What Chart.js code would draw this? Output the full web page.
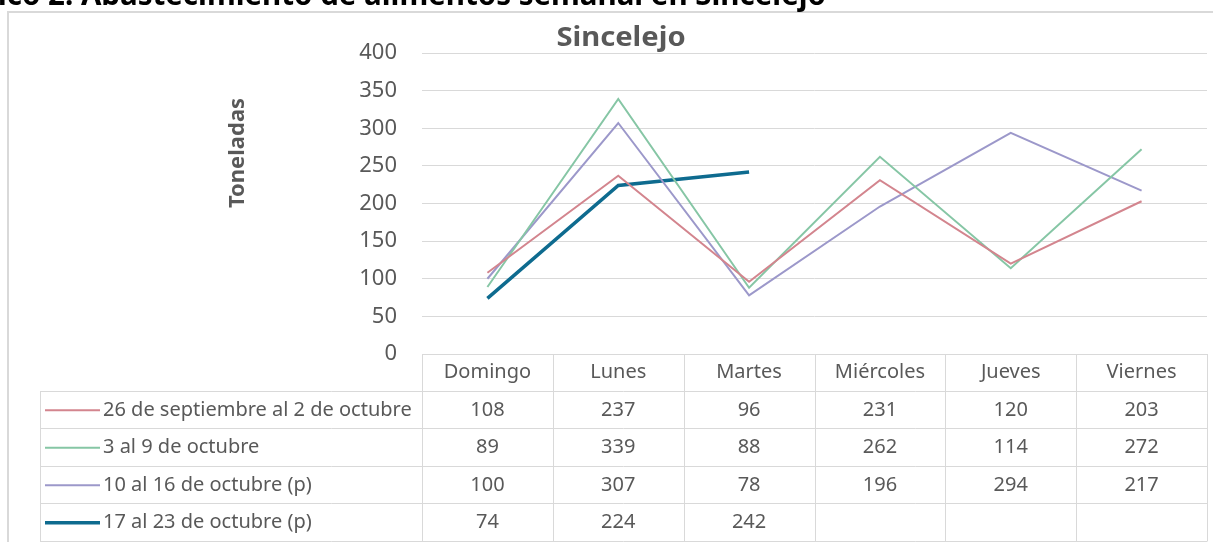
<!DOCTYPE html>
<html><head><meta charset="utf-8">
<script src="https://cdn.jsdelivr.net/npm/chart.js@4/dist/chart.umd.min.js"></script>
<style>
html,body{margin:0;padding:0;background:#fff;overflow:hidden}
#wrap{position:relative;width:1213px;height:542px;overflow:hidden}
#hdr{position:absolute;right:387px;top:-27px;font:bold 29.5px "Noto Sans";white-space:nowrap;color:#000;z-index:2}
canvas{position:absolute;left:0;top:0}
</style></head><body>
<div id="wrap"><div id="hdr">Gráfico 2. Abastecimiento de alimentos semanal en Sincelejo</div><canvas id="c" width="1213" height="542"></canvas></div>
<script>
const categories = ['Domingo','Lunes','Martes','Miércoles','Jueves','Viernes'];
const seriesNames = ['26 de septiembre al 2 de octubre','3 al 9 de octubre','10 al 16 de octubre (p)','17 al 23 de octubre (p)'];
const sep26 = [108,237,96,231,120,203];
const oct3 = [89,339,88,262,114,272];
const oct10 = [100,307,78,196,294,217];
const oct17 = [74,224,242,null,null,null];
const yTickMin = 0, yTickMax = 400, yTickStep = 50;
const chartTitle = 'Sincelejo';
const yTitle = 'Toneladas';

const colors = ['#d3858e','#86c6a5','#9c98ca','#0e6b8f'];
const widths = [2,2,2,3.5];
const values = [sep26, oct3, oct10, oct17];
const FONT = '"Noto Sans", sans-serif';
const GRAY = '#595959';
const LINE = '#d9d9d9';

const tablePlugin = {
  id: 'tablePlugin',
  afterDraw(chart) {
    const ctx = chart.ctx;
    const ca = chart.chartArea;
    const xs = chart.scales.x;
    ctx.save();
    // outer border
    ctx.strokeStyle = LINE; ctx.lineWidth = 2;
    ctx.beginPath(); ctx.moveTo(8, 560); ctx.lineTo(8, 12); ctx.lineTo(1220, 12); ctx.stroke();
    // title
    ctx.fillStyle = GRAY; ctx.font = 'bold 27px ' + FONT;
    ctx.textAlign = 'center'; ctx.textBaseline = 'alphabetic';
    ctx.save(); ctx.translate(621, 46); ctx.scale(1.08, 1); ctx.fillText(chartTitle, 0, 0); ctx.restore();
    // y title
    ctx.save(); ctx.translate(238, 153); ctx.rotate(-Math.PI/2);
    ctx.textBaseline = 'middle';
    ctx.font = 'bold 22px ' + FONT; ctx.fillText(yTitle, 0, 0); ctx.restore();
    // table
    const c0 = xs.getPixelForValue(0), c1 = xs.getPixelForValue(1);
    const colW = c1 - c0;
    const bounds = [];
    for (let i = 0; i <= categories.length; i++) bounds.push(c0 - colW/2 + i*colW);
    const top = ca.bottom, bottom = 541.5;
    const rowH = (bottom - top) / 5;
    const tLeft = 40;
    ctx.strokeStyle = LINE; ctx.lineWidth = 1;
    ctx.beginPath();
    ctx.moveTo(bounds[0], top + 0.5); ctx.lineTo(bounds[6], top + 0.5);
    for (let k = 1; k <= 5; k++) {
      const y = Math.round(top + rowH*k) - 0.5;
      ctx.moveTo(tLeft, y); ctx.lineTo(bounds[6], y);
    }
    for (const b of bounds) { const x = Math.round(b) + 0.5; ctx.moveTo(x, top); ctx.lineTo(x, bottom); }
    ctx.moveTo(tLeft + 0.5, top + rowH); ctx.lineTo(tLeft + 0.5, bottom);
    ctx.stroke();
    ctx.fillStyle = GRAY; ctx.font = '20px ' + FONT; ctx.textAlign = 'center'; ctx.textBaseline = 'middle';
    categories.forEach((c, i) => ctx.fillText(c, xs.getPixelForValue(i), top + rowH/2));
    chart.data.datasets.forEach((ds, r) => {
      const yc = top + rowH*(r+1) + rowH/2;
      ctx.strokeStyle = ds.borderColor; ctx.lineWidth = ds.borderWidth;
      ctx.beginPath(); ctx.moveTo(45, yc); ctx.lineTo(100, yc); ctx.stroke();
      ctx.fillStyle = GRAY; ctx.textAlign = 'left'; ctx.font = '20px ' + FONT;
      ctx.fillText(ds.label, 103, yc);
      ctx.textAlign = 'center'; ctx.font = '20px ' + FONT;
      ds.data.forEach((v, i) => { if (v !== null) ctx.fillText(String(v), xs.getPixelForValue(i), yc); });
    });
    ctx.restore();
  }
};

new Chart(document.getElementById('c'), {
  type: 'line',
  data: {
    labels: categories,
    datasets: values.map((v, i) => ({
      label: seriesNames[i], data: v, borderColor: colors[i], backgroundColor: colors[i],
      borderWidth: widths[i], pointRadius: 0, tension: 0, fill: false, spanGaps: false
    }))
  },
  options: {
    responsive: false, animation: false,
    layout: { padding: { left: 0, right: 6, top: 53, bottom: 0 } },
    plugins: { legend: { display: false }, tooltip: { enabled: false }, title: { display: false } },
    scales: {
      x: {
        offset: true,
        ticks: { display: false },
        grid: { display: false },
        border: { display: false },
        afterFit(s) { s.height = 188; }
      },
      y: {
        min: yTickMin, max: yTickMax,
        ticks: { stepSize: yTickStep, color: GRAY, font: { family: FONT, size: 22 }, padding: 25 },
        grid: { color: LINE, drawTicks: false },
        border: { display: false },
        afterFit(s) { s.width = 422; }
      }
    }
  },
  plugins: [tablePlugin]
});
</script>
</body></html>
